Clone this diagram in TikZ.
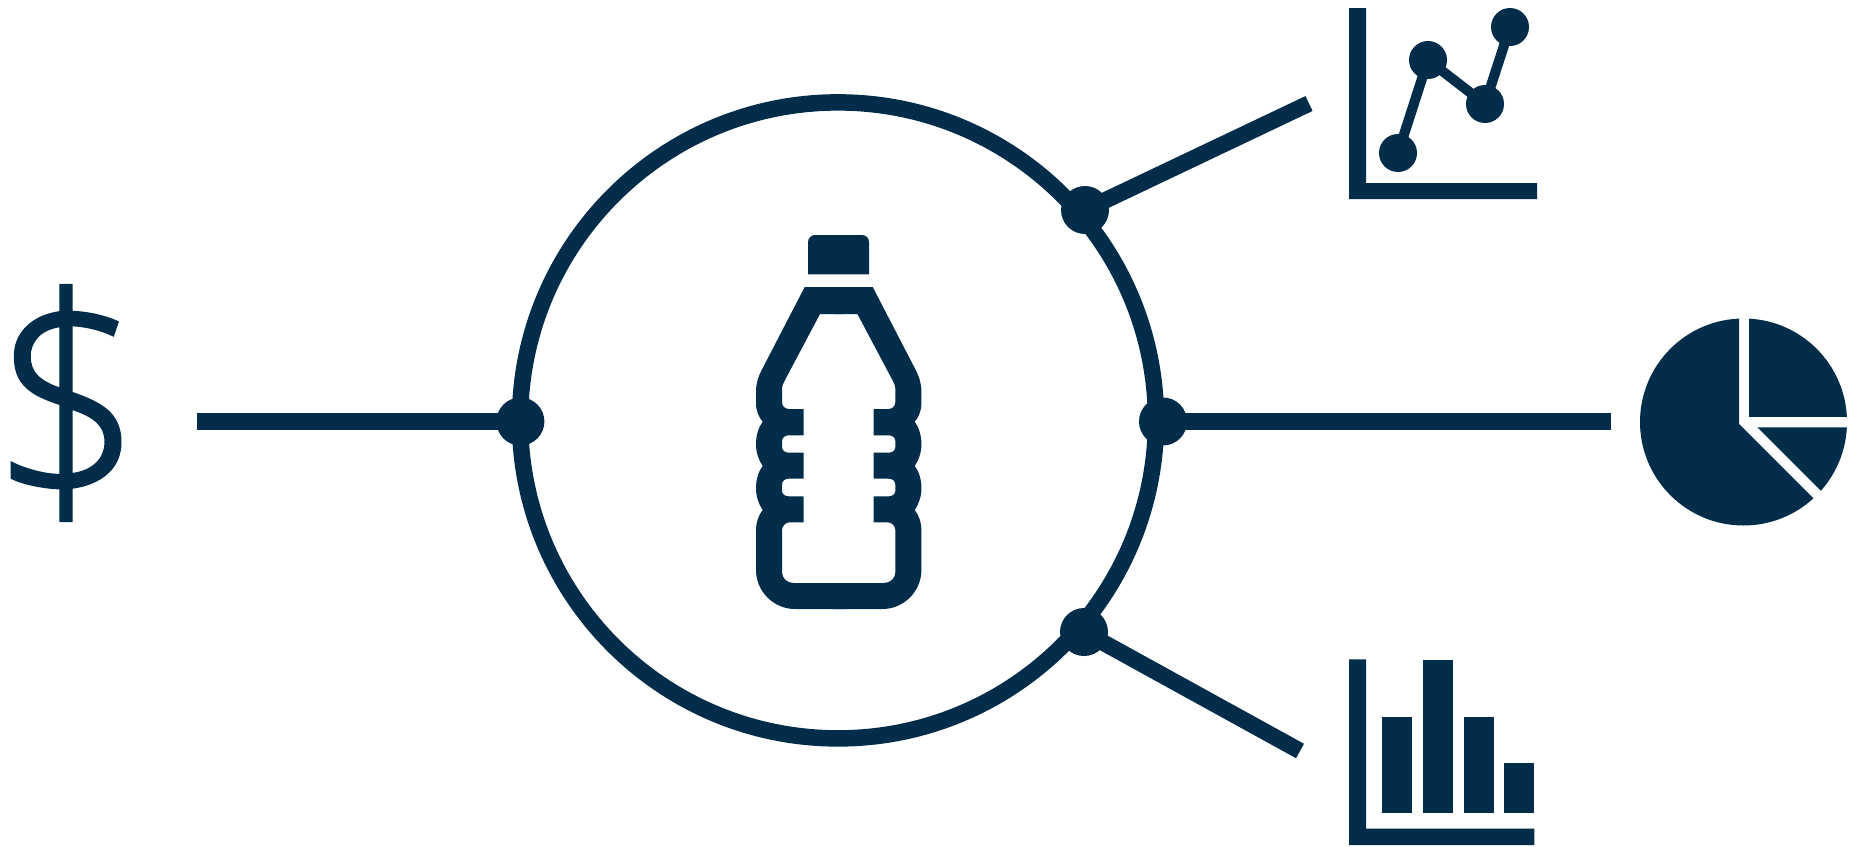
\documentclass[tikz,border=0pt]{standalone}
\usepackage{fontspec}
\newfontfamily\dollarfont[FakeBold=1]{Open Sans Light}
\definecolor{navy}{HTML}{022D4A}
\tikzset{
	wire/.style={draw=navy,line width=16.5pt},
	linkdot/.style={fill=navy},
	iconpart/.style={fill=navy}
}
\begin{document}
\begin{tikzpicture}[x=1pt,y=-1pt]
	\useasboundingbox (0,0) rectangle (1849,846);
	\path (838,420.4) coordinate (O)
	(520.4,421.5) coordinate (A)
	(1163,421.5) coordinate (B)
	(1085,210) coordinate (C)
	(1084,632) coordinate (D)
	(197,421.5) coordinate (A_1)
	(1611,421.5) coordinate (B_1)
	(1309,103.5) coordinate (C_1)
	(1300,751) coordinate (D_1);
	% ring and the four links
	\draw[wire] (O) circle (318);
	\foreach \x in {A,B,C,D}{
		\draw[wire] (\x)--(\x_1);
		\fill[linkdot] (\x) circle (24);
	}
	% dollar
	\node[navy,inner sep=0pt,xscale=.93] (dollar) at (67,403) {\dollarfont\fontsize{288}{288}\selectfont\$};
	% bottle
	\fill[iconpart] (808,274.3) [rounded corners=7pt] -- (808,235) -- (869,235) [sharp corners] -- (869,274.3) -- cycle;
	\foreach \s in {-1,1}{
		\begin{scope}[shift={(838.7,0)},xscale=\s]
			\fill[iconpart] (5,287) -- (-34,287) -- (-77,370)
			.. controls (-81,378) and (-82.7,384) .. (-82.7,392) -- (-82.7,403)
			.. controls (-82.7,411) and (-80,417) .. (-76,421.7)
			.. controls (-80,427) and (-82.7,435) .. (-82.7,444)
			.. controls (-82.7,453) and (-80,460) .. (-76,466)
			.. controls (-80,471) and (-82.7,479) .. (-82.7,488)
			.. controls (-82.7,497) and (-80,504) .. (-76,510)
			.. controls (-80,515) and (-82.7,522) .. (-82.7,531) -- (-82.7,570)
			.. controls (-82.7,591.5) and (-65,609) .. (-43.7,609) -- (5,609) -- (5,583) -- (-45,583)
			.. controls (-52,583) and (-56.7,578) .. (-56.7,572) -- (-56.7,530)
			.. controls (-56.7,526) and (-53,522.3) .. (-49,522.3) -- (-35,522.3) -- (-35,496.3) -- (-50,496.3)
			.. controls (-54,496.3) and (-56.7,494) .. (-56.7,490.5) -- (-56.7,485)
			.. controls (-56.7,481) and (-54,478.7) .. (-50,478.7) -- (-35,478.7) -- (-35,452.7) -- (-50,452.7)
			.. controls (-54,452.7) and (-56.7,450) .. (-56.7,447) -- (-56.7,441)
			.. controls (-56.7,438) and (-54,435.3) .. (-50,435.3) -- (-35,435.3) -- (-35,409) -- (-49.5,409)
			.. controls (-54,409) and (-56.7,406) .. (-56.7,401.7) -- (-56.7,390)
			.. controls (-56.7,386) and (-55.5,383) .. (-53.7,380) -- (-18.7,314) -- (5,314) -- cycle;
		\end{scope}
	}
	% line chart
	\fill[iconpart] (1349,8) -- (1366,8) -- (1366,183) -- (1537,183) -- (1537,199) -- (1349,199) -- cycle;
	\draw[navy,line width=10pt] (1398,153) -- (1428,60) -- (1485,104) -- (1510,27);
	\foreach \x/\y in {1398/153,1428/60,1485/104,1510/27}{
		\fill[iconpart] (\x,\y) circle (19);
	}
	% pie
	\begin{scope}
		\clip (1743.5,422) circle (103.5);
		\fill[iconpart] (1739,300) -- (1739,424) -- (1839,524) -- (1839,640) -- (1620,640) -- (1620,300) -- cycle;
		\fill[iconpart] (1749.3,300) rectangle (1860,416.7);
		\fill[iconpart] (1757.3,427.3) -- (1860,427.3) -- (1860,530) -- cycle;
	\end{scope}
	% bars
	\fill[iconpart] (1349,659.3) -- (1366,659.3) -- (1366,828.7) -- (1534.3,828.7) -- (1534.3,845) -- (1349,845) -- cycle;
	\foreach \x/\h in {1382/717,1423/660,1464/717,1504/763}{
		\fill[iconpart] (\x,\h) rectangle ++(30,813-\h);
	}
\end{tikzpicture}
\end{document}
